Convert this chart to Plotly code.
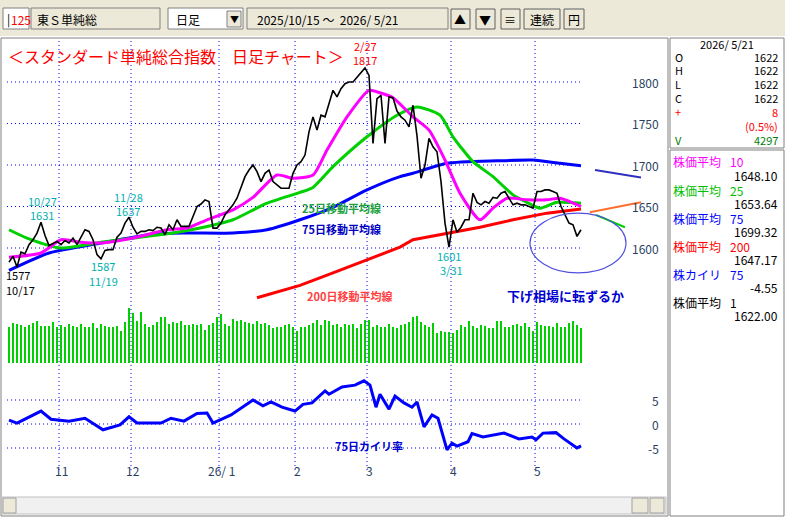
import plotly.graph_objects as go

W, H = 785, 519
# ---------------- data ----------------
month_labels = ["11", "12", "26/ 1", "2", "3", "4", "5"]
month_start_idx = [13, 31, 53, 72, 90, 111, 132]

close = [1583, 1590, 1577, 1595, 1593, 1604, 1610, 1618, 1631, 1615, 1603, 1606, 1608,
         1604, 1609, 1606, 1612, 1604, 1614, 1622, 1620, 1610, 1592, 1587, 1597, 1598, 1598, 1613, 1618, 1630, 1637,
         1625, 1617, 1620, 1620, 1622, 1621, 1625, 1624, 1616, 1628, 1622, 1634, 1626, 1626, 1626, 1638, 1650, 1653, 1658, 1656, 1624, 1624,
         1630, 1640, 1646, 1652, 1660, 1672, 1686, 1694, 1700, 1692, 1680, 1690, 1694, 1680, 1676, 1672, 1672, 1672, 1690,
         1700, 1704, 1712, 1740, 1758, 1742, 1760, 1758, 1775, 1790, 1782, 1792, 1798, 1800, 1800, 1806, 1812, 1817,
         1808, 1726, 1780, 1784, 1726, 1782, 1781, 1765, 1758, 1754, 1746, 1772, 1735, 1684, 1700, 1732, 1722, 1716, 1680, 1630, 1601,
         1634, 1619, 1625, 1634, 1634, 1666, 1655, 1652, 1656, 1654, 1661, 1660, 1666, 1668, 1660, 1652, 1654, 1652, 1652, 1650, 1648,
         1668, 1668, 1670, 1670, 1668, 1666, 1650, 1640, 1630, 1628, 1614, 1622]

volume = [4415, 4900, 4740, 4620, 4330, 4620, 4820, 5140, 4500, 4500, 4500, 4940, 4415,
          4620, 4415, 4740, 4500, 4330, 4740, 4415, 4415, 4820, 4210, 4740, 4500, 4415, 4415, 4500, 3930, 5020, 6640,
          6120, 5140, 6240, 4740, 4415, 4620, 5020, 5550, 5550, 4740, 5020, 4820, 5140, 4620, 4620, 4740, 4620, 4700, 4010, 4620, 4900, 5550,
          5950, 4740, 4500, 5300, 5140, 5225, 5020, 4820, 4740, 5140, 4740, 4820, 4620, 4210, 4415, 4415, 4620, 4740, 4330,
          3930, 4415, 4330, 4620, 4900, 5225, 4620, 5225, 5140, 4620, 4740, 4415, 4740, 4620, 4740, 4210, 4740, 5225,
          5225, 4415, 4620, 4330, 4415, 4740, 4415, 4210, 4620, 4740, 5020, 5630, 5710, 5020, 4620, 4415, 4820, 3690, 3930, 3810, 3810,
          3600, 4010, 4620, 4330, 5140, 4500, 4210, 4620, 4500, 4210, 4210, 5140, 5140, 4415, 4415, 4620, 4740, 4500, 4820, 4415, 3930,
          5020, 4620, 4500, 4500, 4415, 4820, 4415, 4415, 4820, 5140, 4620, 4297]

ma10_x = [0, 8, 13, 18, 23, 31, 39.5, 44.5, 49.5, 56, 61, 67, 71, 76, 79.5, 84.5, 90, 92.75, 96, 101, 105, 109, 112.75, 117.75, 121, 124.5, 129.5, 134.5, 137.75, 143]
ma10_y = [1589, 1594, 1610, 1607, 1606, 1612, 1622, 1624, 1634, 1646, 1661, 1688, 1684, 1688, 1718, 1758, 1790, 1787, 1781, 1758, 1742, 1706, 1666, 1634, 1648, 1660, 1658, 1658, 1660, 1650]
ma25_x = [0, 4.5, 13, 23, 32.75, 41, 47.75, 56, 64.5, 72.75, 76, 81, 89.5, 97, 102, 107.75, 111, 116, 121, 126, 129.5, 132.75, 137, 143]
ma25_y = [1622, 1612, 1600, 1607, 1613, 1618, 1624, 1634, 1654, 1667, 1673, 1698, 1734, 1760, 1770, 1760, 1734, 1704, 1686, 1664, 1655, 1648, 1655, 1654]
ma75_x = [0, 10, 23, 35, 43.5, 56, 64.5, 72.75, 81, 89.5, 97.75, 101, 109.5, 122, 131, 137.75, 143]
ma75_y = [1573, 1594, 1606, 1616, 1618, 1618, 1622, 1634, 1649, 1670, 1686, 1690, 1702, 1705, 1706, 1702, 1699]
ma200_x = [62, 72.75, 81, 89.5, 97.75, 101, 109.5, 117.75, 126, 134.5, 143]
ma200_y = [1540, 1555, 1570, 1586, 1601, 1610, 1618, 1625, 1634, 1642, 1647]

kairi_x = [0, 2, 8, 10.5, 15, 19, 23.5, 27.75, 30, 32, 38, 40.5, 43.75, 47, 49.5, 51, 55.5, 61, 63.5, 65.5, 68.25, 71.5, 73.5, 75.75, 79, 80, 83.25, 86.5, 88.75, 90.25, 91.75, 92.75, 95, 96.5, 98.75, 100.75, 102, 103.75, 105.75, 107.25, 109.5, 110.75, 112, 114.75, 115.75, 118.5, 123.75, 127.5, 130.75, 131.75, 133.5, 136.75, 138.75, 142, 143]
kairi_y = [0.8, 0.2, 2.7, 1.0, 0.6, 1.2, -1.2, -0.2, 1.5, 0.2, 0.2, 1.2, 0.6, 2.2, 2.3, 0.2, 1.9, 5.0, 3.8, 4.6, 3.5, 2.7, 4.1, 4.4, 6.9, 6.2, 7.7, 8.1, 9.0, 8.1, 3.5, 6.2, 3.1, 5.8, 4.4, 3.5, 4.6, -0.6, 1.9, 1.2, -5.4, -4.0, -4.6, -3.7, -2.0, -2.7, -1.9, -3.1, -2.7, -3.3, -1.9, -1.8, -3.1, -5.0, -4.55]

price_ticks = [1600, 1650, 1700, 1750, 1800]
kairi_ticks = [5, 0, -5]
proj_ma75 = ([146.5, 158], [1694, 1685])
proj_ma200 = ([145.2, 158], [1643, 1655])
proj_ma25 = ([146.7, 154], [1640, 1625])
circle_box = ([130.25, 154.25], [1642, 1570])

# ---------------- pixel scales (screen mapping) ----------------
X0, DX = 9.0, 4.0
xr = [-X0 / DX, (W - X0) / DX]
P_Y1600, P_K = 248.0, 0.83
yr_price = [1600 - (H - P_Y1600) / P_K, 1600 + P_Y1600 / P_K]
V_BASE, V_K = 363.0, 0.00823
yr_vol = [-(H - V_BASE) / V_K, V_BASE / V_K]
K_Y0, K_K = 424.0, 4.8
yr_k = [-(H - K_Y0) / K_K, K_Y0 / K_K]

def px(x): return x / W
def py(y): return 1 - y / H

FONT = "Noto Sans CJK JP"
DOT = dict(color="#0000ff", width=1, dash="1px,3px")

idx = list(range(len(close)))
fig = go.Figure()
fig.add_bar(x=idx, y=volume, yaxis="y2", marker_color="#00d000", marker_line_width=0, width=0.72)
fig.add_scatter(x=ma200_x, y=ma200_y, mode="lines", line=dict(color="#ff0000", width=3))
fig.add_scatter(x=ma75_x, y=ma75_y, mode="lines", line=dict(color="#0000ff", width=3, shape="spline", smoothing=0.6))
fig.add_scatter(x=ma25_x, y=ma25_y, mode="lines", line=dict(color="#00d000", width=3, shape="spline", smoothing=0.6))
fig.add_scatter(x=ma10_x, y=ma10_y, mode="lines", line=dict(color="#ff00ff", width=3, shape="spline", smoothing=0.6))
fig.add_scatter(x=idx, y=close, mode="lines", line=dict(color="#000000", width=1.6))
fig.add_scatter(x=kairi_x, y=kairi_y, yaxis="y3", mode="lines", line=dict(color="#0000ff", width=3))
for (xx, yy), c in [(proj_ma75, "#3030c0"), (proj_ma200, "#ff7030"), (proj_ma25, "#00d000")]:
    fig.add_scatter(x=xx, y=yy, mode="lines", line=dict(color=c, width=2))

shapes = []
shapes.append(dict(type="rect", xref="paper", yref="paper", x0=0, x1=1, y0=py(36), y1=1, fillcolor="#ece9d8", line_width=0, layer="below"))
def box(x0, y0, x1, y1, fill="#ffffff", line="#808080"):
    shapes.append(dict(type="rect", xref="paper", yref="paper", x0=px(x0), x1=px(x1), y0=py(y1), y1=py(y0), fillcolor=fill, line=dict(color=line, width=1), layer="below"))
box(3, 8, 29, 29); box(31, 8, 160, 29, "#ece9d8")
box(168, 8, 243, 29); box(227, 11, 241, 27, "#ece9d8")
box(247, 8, 448, 29, "#ece9d8")
for a, b in [(451, 470), (476, 495), (501, 520), (524, 560), (564, 584)]:
    box(a, 9, b, 29, "#ece9d8", "#606060")
box(1, 38, 668, 516, "rgba(0,0,0,0)", "#808080")
box(670, 38, 784, 148, "#ffffff", "#808080")
box(670, 150, 784, 516, "#ffffff", "#808080")
box(2, 497, 666, 514, "#f0f0f0", "#c0c0c0")
box(3, 498, 16, 513, "#ece9d8", "#a0a0a0"); box(650, 498, 664, 513, "#ece9d8", "#a0a0a0")
box(632, 498, 648, 513, "#ece9d8", "#a0a0a0")
for p in price_ticks:
    shapes.append(dict(type="line", xref="x", yref="y", x0=-0.5, x1=143.5, y0=p, y1=p, line=DOT, layer="below"))
for k in kairi_ticks:
    shapes.append(dict(type="line", xref="x", yref="y3", x0=-0.5, x1=143.5, y0=k, y1=k, line=DOT, layer="below"))
for m in month_start_idx:
    shapes.append(dict(type="line", xref="x", yref="paper", x0=m - 0.5, x1=m - 0.5, y0=py(470), y1=py(40), line=DOT, layer="below"))
shapes.append(dict(type="circle", xref="x", yref="y", x0=circle_box[0][0], x1=circle_box[0][1], y0=circle_box[1][1], y1=circle_box[1][0], line=dict(color="#5050e0", width=1.2)))

ann = []
def T(x, y, s, color="#000", size=12, xa="left", bold=False):
    ann.append(dict(xref="paper", yref="paper", x=px(x), y=py(y), text=("<b>%s</b>" % s) if bold else s, showarrow=False,
                    xanchor=xa, yanchor="middle", font=dict(color=color, size=size, family=FONT)))
T(5, 19, "|", "#000"); T(9, 19, "125", "#ff0000")
T(35, 19, "東Ｓ単純総")
T(174, 19, "日足"); T(234, 19, "▼", size=9, xa="center")
T(255, 19, "2025/10/15 ～  2026/ 5/21")
for x, s in [(460, "▲"), (485, "▼"), (510, "≡"), (542, "連続"), (574, "円")]:
    T(x, 19, s, xa="center", size=12)
T(6, 56, "＜スタンダード単純総合指数　日足チャート＞", "#ff0000", 16)
T(365, 46, "2/27", "#ff0000", 11, "center"); T(365, 60, "1817", "#ff0000", 11, "center")
T(42, 201, "10/27", "#00b0b0", 11, "center"); T(42, 215, "1631", "#00b0b0", 11, "center")
T(128, 197, "11/28", "#00b0b0", 11, "center"); T(128, 211, "1637", "#00b0b0", 11, "center")
T(103, 266, "1587", "#00b0b0", 11, "center"); T(103, 281, "11/19", "#00b0b0", 11, "center")
T(449, 256, "1601", "#00b0b0", 11, "center"); T(451, 270, "3/31", "#00b0b0", 11, "center")
T(4, 275, "1577", "#000", 11); T(4, 290, "10/17", "#000", 11)
T(300, 208, "25日移動平均線", "#20a040", 11, bold=True)
T(300, 229, "75日移動平均線", "#0000c0", 11, bold=True)
T(305, 296, "200日移動平均線", "#ff4040", 11, bold=True)
T(505, 295, "下げ相場に転ずるか", "#0000d0", 13, bold=True)
T(333, 446, "75日カイリ率", "#0000d0", 11, bold=True)
for p in price_ticks:
    ann.append(dict(xref="paper", yref="y", x=px(661), y=p, text=str(p), showarrow=False, xanchor="right", font=dict(size=12, family=FONT)))
for k in kairi_ticks:
    ann.append(dict(xref="paper", yref="y3", x=px(661), y=k, text=str(k), showarrow=False, xanchor="right", font=dict(size=12, family=FONT)))
for m, lab in zip(month_start_idx, month_labels):
    ann.append(dict(xref="x", yref="paper", x=m, y=py(481), text=lab, showarrow=False, xanchor="center", font=dict(size=12, family=FONT)))
R = 780
S = 11
T(727, 44, "2026/ 5/21", xa="center", size=S)
for y, l, v in [(57, "O", "1622"), (70, "H", "1622"), (84, "L", "1622"), (98, "C", "1622")]:
    T(673, y, l, size=S); T(R, y, v, xa="right", size=S)
T(673, 112, "+", "#ff0000", S); T(R, 112, "8", "#ff0000", S, xa="right")
T(R, 126, "(0.5%)", "#ff0000", S, xa="right")
T(673, 140, "V", "#008000", S); T(R, 140, "4297", "#008000", S, xa="right")
rows = [("株価平均", "10", "1648.10", "#ff00ff"), ("株価平均", "25", "1653.64", "#00c000"),
        ("株価平均", "75", "1699.32", "#0000ff"), ("株価平均", "200", "1647.17", "#ff0000"),
        ("株カイリ", "75", "-4.55", "#0000ff"), ("株価平均", "1", "1622.00", "#000000")]
for j, (a, b, c, col) in enumerate(rows):
    y = 162 + j * 28
    T(671, y, a, col, S + 1); T(728, y, b, col, S + 1); T(R, y + 13.5, c, size=S + 1, xa="right")

fig.update_layout(
    width=W, height=H, margin=dict(l=0, r=0, t=0, b=0), showlegend=False,
    paper_bgcolor="#ffffff", plot_bgcolor="rgba(0,0,0,0)",
    xaxis=dict(range=xr, visible=False, fixedrange=True),
    yaxis=dict(range=yr_price, visible=False),
    yaxis2=dict(range=yr_vol, visible=False, overlaying="y"),
    yaxis3=dict(range=yr_k, visible=False, overlaying="y"),
    shapes=shapes, annotations=ann, bargap=0,
)
fig.write_html("out.html", config={"displayModeBar": False})
with open("out.html", encoding="utf-8") as f:
    html = f.read()
html = html.replace("<head>", "<head><style>html,body{margin:0;padding:0;overflow:hidden}</style>", 1)
with open("out.html", "w", encoding="utf-8") as f:
    f.write(html)
